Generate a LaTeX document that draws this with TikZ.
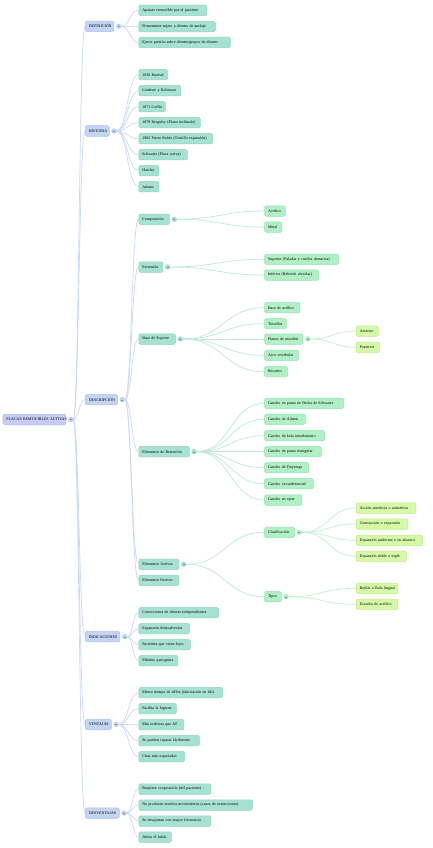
\documentclass[tikz,border=0pt]{standalone}
\usepackage{fontspec}
\setmainfont{Liberation Serif}
\usetikzlibrary{calc,backgrounds}
\definecolor{rootF}{HTML}{C7CCF6}
\definecolor{rootD}{HTML}{B2B8EC}
\definecolor{bluF}{HTML}{C3D4F5}
\definecolor{bluD}{HTML}{AEC3EC}
\definecolor{teaF}{HTML}{A6E1D1}
\definecolor{teaD}{HTML}{92D4C2}
\definecolor{grnF}{HTML}{B1EFC7}
\definecolor{grnD}{HTML}{99E3B3}
\definecolor{limF}{HTML}{D5F9A6}
\definecolor{limD}{HTML}{C1EC8C}
\definecolor{bluL}{HTML}{C9D8F6}
\definecolor{teaL}{HTML}{BDE8DB}
\definecolor{grnL}{HTML}{C2EFD1}
\newcommand\mknode[6]{%
  \pgfmathsetmacro\nw{#5-#3-7}%
  \node[#1, anchor=west, text width=\nw pt] (#2) at (#3,#4) {\mbox{#6}};}
\newcommand\mkdot[2]{\node[#2] (#1d) at ([xshift=4.5pt]#1.east) {};}
\newcommand\mklink[3]{%
  \draw[#3] let \p1=(#1.east), \p2=(#2.west) in
    (\p1) .. controls ($(\p1)!0.5!(\x2,\y1)$) and ($(\p2)!0.5!(\x1,\y2)$) .. (\p2);}
\begin{document}
\begin{tikzpicture}[x=1pt,y=-1pt,
  box/.style={rounded corners=1.5pt, inner xsep=3.5pt, inner ysep=0pt,
    minimum height=10.5pt, font=\fontsize{4}{4.8}\selectfont, line width=0.5pt, align=left},
  rootbox/.style={box, fill=rootF, draw=rootD, align=center},
  l1box/.style={box, fill=bluF, draw=bluD, align=center},
  l2box/.style={box, fill=teaF, draw=teaD},
  l3box/.style={box, fill=grnF, draw=grnD},
  l4box/.style={box, fill=limF, draw=limD},
  dotbase/.style={circle, minimum size=4.6pt, inner sep=0pt, line width=0.4pt,
    path picture={\draw[line width=0.35pt, black!45]
      ([xshift=1.2pt]path picture bounding box.west) -- ([xshift=-1.2pt]path picture bounding box.east);}},
  dotR/.style={dotbase, fill=rootF, draw=rootD},
  dot1/.style={dotbase, fill=bluF, draw=bluD},
  dot2/.style={dotbase, fill=teaF, draw=teaD},
  dot3/.style={dotbase, fill=grnF, draw=grnD},
  lnB/.style={draw=bluL, line width=0.7pt},
  lnT/.style={draw=teaL, line width=0.7pt},
  lnG/.style={draw=grnL, line width=0.7pt}]
\useasboundingbox (0,0) rectangle (432,848);
% root
\mknode{rootbox}{root}{2.7}{419.5}{65.7}{PLACAS REMOVIBLES ACTIVAS}
\mkdot{root}{dotR}
% level 1
\mknode{l1box}{def}{85}{26.3}{113.7}{DEFINICIÓN}
\mknode{l1box}{his}{85}{131}{109}{HISTORIA}
\mknode{l1box}{des}{85}{399.7}{117.3}{DESCRIPCIÓN}
\mknode{l1box}{ind}{85}{636.7}{119.7}{INDICACIONES}
\mknode{l1box}{ven}{85}{724.5}{111}{VENTAJAS}
\mknode{l1box}{dsv}{85}{813}{119}{DESVENTAJAS}
\foreach \n in {def,his,des,ind,ven,dsv}{\mkdot{\n}{dot1}}
% definicion
\mknode{l2box}{def1}{138.5}{10.3}{206.7}{Aparato removible por el paciente}
\mknode{l2box}{def2}{138.5}{26.7}{215}{Firmemente sujeto a dientes de anclaje}
\mknode{l2box}{def3}{138.5}{42.5}{230}{Ejerce presión sobre dientes/grupos de dientes}
% historia
\mknode{l2box}{his1}{138.5}{74.7}{167.3}{1836 Kneisel}
\mknode{l2box}{his2}{138.5}{90.7}{180.7}{Lindesre y Robinson}
\mknode{l2box}{his3}{138.5}{106.7}{165}{1871 Coffin}
\mknode{l2box}{his4}{138.5}{122.7}{200}{1879 Kingsley (Plano inclinado)}
\mknode{l2box}{his5}{138.5}{138.7}{212.3}{1902 Pierre Robin (Tornillo expansión)}
\mknode{l2box}{his6}{138.5}{154.7}{187}{Schwartz (Placa activa)}
\mknode{l2box}{his7}{138.5}{170.7}{158.7}{Hawley}
\mknode{l2box}{his8}{138.5}{186.7}{158.7}{Adams}
% descripcion
\mknode{l2box}{comp}{138.5}{219.3}{169.3}{Composición}
\mknode{l2box}{ext}{138.5}{267}{162.7}{Extensión}
\mknode{l2box}{bas}{138.5}{339}{175.3}{Base de Soporte}
\mknode{l2box}{ret}{138.5}{451.7}{189}{Elementos de Retención}
\mknode{l2box}{act}{138.5}{564.3}{178.7}{Elementos Activos}
\mknode{l2box}{pas}{138.5}{580.3}{178.7}{Elementos Pasivos}
\foreach \n in {comp,ext,bas,ret,act}{\mkdot{\n}{dot2}}
\mknode{l3box}{comp1}{264.3}{211}{285}{Acrílico}
\mknode{l3box}{comp2}{264.3}{227}{281.7}{Metal}
\mknode{l3box}{ext1}{264.3}{259.3}{338.3}{Superior (Paladar y cuellos dentarios)}
\mknode{l3box}{ext2}{264.3}{275}{318.3}{Inferior (Reborde alveolar)}
\mknode{l3box}{bas1}{264.3}{307.7}{299.7}{Base de acrílico}
\mknode{l3box}{bas2}{264.3}{323.7}{286}{Tornillos}
\mknode{l3box}{bas3}{264.3}{339}{302.7}{Planos de mordida}
\mknode{l3box}{bas4}{264.3}{355.3}{298.3}{Arco vestibular}
\mknode{l3box}{bas5}{264.3}{371.7}{287.3}{Resortes}
\mkdot{bas3}{dot3}
\mknode{l4box}{pl1}{356}{331}{378}{Anterior}
\mknode{l4box}{pl2}{356}{347.3}{379.3}{Posterior}
\mknode{l3box}{ret1}{264.3}{403.3}{343.3}{Gancho en punta de flecha de Schwartz}
\mknode{l3box}{ret2}{264.3}{419.3}{305}{Gancho de Adams}
\mknode{l3box}{ret3}{264.3}{435.7}{324.3}{Gancho de bola interdentario}
\mknode{l3box}{ret4}{264.3}{451.7}{321}{Gancho de punta triangular}
\mknode{l3box}{ret5}{264.3}{467.7}{308.7}{Gancho de Duyzings}
\mknode{l3box}{ret6}{264.3}{483.7}{313}{Gancho circunferencial}
\mknode{l3box}{ret7}{264.3}{500}{301.7}{Gancho en ojete}
\mknode{l3box}{cla}{264.3}{532.3}{294.3}{Clasificación}
\mknode{l3box}{tip}{264.3}{596.7}{281}{Tipos}
\mkdot{cla}{dot3}
\mkdot{tip}{dot3}
\mknode{l4box}{cla1}{356}{508}{415.7}{Acción simétrica o asimétrica}
\mknode{l4box}{cla2}{356}{524}{407.7}{Contracción o expansión}
\mknode{l4box}{cla3}{356}{540.3}{422.3}{Expansión uniforme o en abanico}
\mknode{l4box}{cla4}{356}{556.3}{406}{Expansión doble o triple}
\mknode{l4box}{tip1}{356}{588.3}{397.7}{Rejilla o Bola lingual}
\mknode{l4box}{tip2}{356}{604.3}{397.7}{Escudos de acrílico}
% indicaciones
\mknode{l2box}{ind1}{138.5}{612.7}{218.3}{Correcciones de dientes independientes}
\mknode{l2box}{ind2}{138.5}{628.7}{189.3}{Expansión dentoalveolar}
\mknode{l2box}{ind3}{138.5}{644.7}{190}{Pacientes que viven lejos}
\mknode{l2box}{ind4}{138.5}{660.7}{177.7}{Mínimo yatrogenia}
% ventajas
\mknode{l2box}{ven1}{138.5}{692.7}{222.3}{Menor tiempo de sillón (fabricación en lab)}
\mknode{l2box}{ven2}{138.5}{708.7}{176}{Facilita la higiene}
\mknode{l2box}{ven3}{138.5}{724.7}{183.7}{Más estéticas que AF}
\mknode{l2box}{ven4}{138.5}{740.7}{199}{Se pueden reparar fácilmente}
\mknode{l2box}{ven5}{138.5}{756.7}{184.3}{Citas más espaciadas}
% desventajas
\mknode{l2box}{dsv1}{138.5}{789}{210.7}{Requiere cooperación (del paciente)}
\mknode{l2box}{dsv2}{138.5}{805}{252.3}{No producen muchos movimientos (casos de extracciones)}
\mknode{l2box}{dsv3}{138.5}{821}{210.7}{Se desajustan con mayor frecuencia}
\mknode{l2box}{dsv4}{138.5}{837}{171}{Altera el habla}
% links
\begin{pgfonlayer}{background}
\fill[white] (0,0) rectangle (432,848);
\foreach \c in {def,his,des,ind,ven,dsv}{\mklink{rootd}{\c}{lnB}}
\foreach \c in {def1,def2,def3}{\mklink{defd}{\c}{lnB}}
\foreach \c in {his1,his2,his3,his4,his5,his6,his7,his8}{\mklink{hisd}{\c}{lnB}}
\foreach \c in {comp,ext,bas,ret,act,pas}{\mklink{desd}{\c}{lnB}}
\foreach \c in {ind1,ind2,ind3,ind4}{\mklink{indd}{\c}{lnB}}
\foreach \c in {ven1,ven2,ven3,ven4,ven5}{\mklink{vend}{\c}{lnB}}
\foreach \c in {dsv1,dsv2,dsv3,dsv4}{\mklink{dsvd}{\c}{lnB}}
\foreach \c in {comp1,comp2}{\mklink{compd}{\c}{lnT}}
\foreach \c in {ext1,ext2}{\mklink{extd}{\c}{lnT}}
\foreach \c in {bas1,bas2,bas3,bas4,bas5}{\mklink{basd}{\c}{lnT}}
\foreach \c in {ret1,ret2,ret3,ret4,ret5,ret6,ret7}{\mklink{retd}{\c}{lnT}}
\foreach \c in {cla,tip}{\mklink{actd}{\c}{lnT}}
\foreach \c in {pl1,pl2}{\mklink{bas3d}{\c}{lnG}}
\foreach \c in {cla1,cla2,cla3,cla4}{\mklink{clad}{\c}{lnG}}
\foreach \c in {tip1,tip2}{\mklink{tipd}{\c}{lnG}}
\end{pgfonlayer}
\end{tikzpicture}
\end{document}
